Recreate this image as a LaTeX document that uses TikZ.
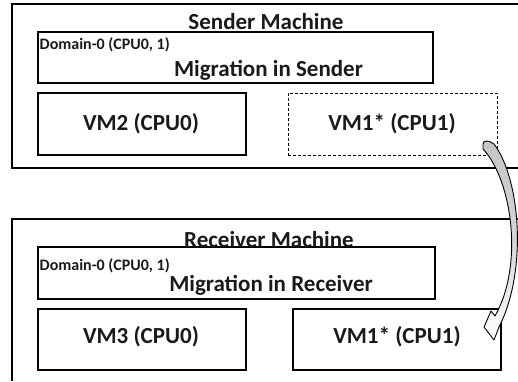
\documentclass[tikz,border=0pt]{standalone}
\usepackage{fontspec}
\setmainfont{Carlito}
\definecolor{txt}{HTML}{1A1A1A}
\definecolor{arrowgray}{HTML}{C4C4C4}
\begin{document}
\begin{tikzpicture}[x=1pt,y=-1pt,
  frame/.style={line width=1.3pt},
  box/.style={draw, line width=1.3pt, inner sep=0pt},
  dbox/.style={box, dash pattern=on 3pt off 2pt, line width=1pt},
  big/.style={inner sep=0pt, anchor=base, text=txt, font=\fontsize{23}{27}\selectfont\bfseries},
  small/.style={inner sep=0pt, anchor=base west, text=txt, font=\fontsize{16}{19}\selectfont\bfseries}]
\useasboundingbox (0,0) rectangle (518,381);
% machine frames
\coordinate (sA) at (518,4);
\coordinate (sB) at (12,4);
\coordinate (sC) at (12,168);
\coordinate (sD) at (518,168);
\draw[frame] (sA) -- (sB) -- (sC) -- (sD);
\coordinate (rA) at (518,219);
\coordinate (rB) at (12,219);
\coordinate (rC) at (12,381);
\draw[frame] (rA) -- (rB) -- (rC);
% sender
\node[big] (stitle) at (266,29) {Sender Machine};
\node[box, minimum width=395pt, minimum height=51pt] (dom0s) at (235.5,57.5) {};
\node[small] (dom0stxt) at (39.5,49) {Domain-0 (CPU0, 1)};
\node[big] (migs) at (268.5,76) {Migration in Sender};
\node[box, minimum width=208pt, minimum height=62pt] (vm2) at (142,124) {};
\node[big] (vm2txt) at (141,130) {VM2 (CPU0)};
\node[dbox, minimum width=209pt, minimum height=62pt] (vm1s) at (392.5,124) {};
\node[big] (vm1stxt) at (392,130) {VM1* (CPU1)};
% receiver
\node[box, minimum width=397pt, minimum height=52pt] (dom0r) at (236.5,273) {};
\node[big] (rtitle) at (269,247) {Receiver Machine};
\node[small] (dom0rtxt) at (39.5,270) {Domain-0 (CPU0, 1)};
\node[big] (migr) at (271,291) {Migration in Receiver};
\node[box, minimum width=208pt, minimum height=61pt] (vm3) at (142,339.5) {};
\node[big] (vm3txt) at (141,343) {VM3 (CPU0)};
\node[box, minimum width=208pt, minimum height=61pt] (vm1r) at (397,339.5) {};
\node[big] (vm1rtxt) at (397,343) {VM1* (CPU1)};
% curved block arrow
\shadedraw[line width=0.9pt, top color=arrowgray, bottom color=white, middle color=arrowgray!70, line join=round]
  (483,149) -- (483,144) .. controls (483,140) and (489,140) .. (494,144)
  .. controls (520,178) and (528,270) .. (499,327)
  -- (494,340) -- (484,327) -- (491,311) -- (495,316)
  .. controls (524,265) and (512,180) .. (483,149) -- cycle;
\end{tikzpicture}
\end{document}
